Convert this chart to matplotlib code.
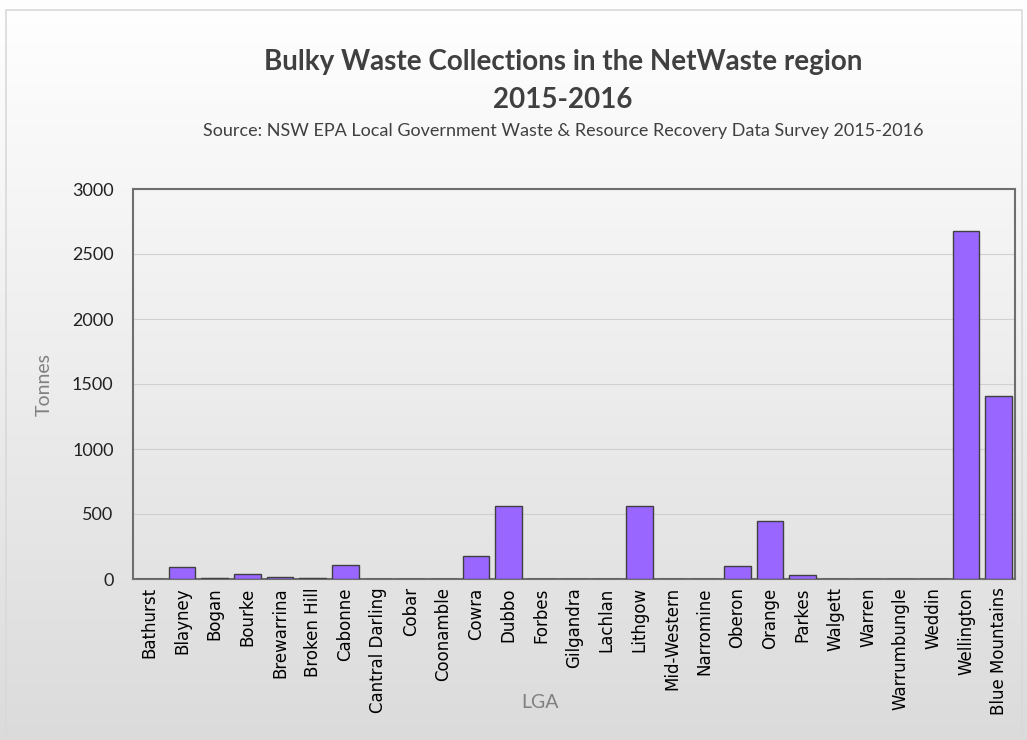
import numpy as np
import matplotlib.pyplot as plt
from matplotlib.patches import Rectangle

lgas = ['Bathurst', 'Blayney', 'Bogan', 'Bourke', 'Brewarrina', 'Broken Hill',
        'Cabonne', 'Cantral Darling', 'Cobar', 'Coonamble', 'Cowra', 'Dubbo',
        'Forbes', 'Gilgandra', 'Lachlan', 'Lithgow', 'Mid-Western', 'Narromine',
        'Oberon', 'Orange', 'Parkes', 'Walgett', 'Warren', 'Warrumbungle',
        'Weddin', 'Wellington', 'Blue Mountains']
tonnes = [0, 93, 4, 35, 12, 4,
          108, 0, 0, 0, 175, 565,
          0, 0, 0, 560, 0, 0,
          100, 450, 30, 0, 0, 0,
          3, 2678, 1408]
yticks = [0, 500, 1000, 1500, 2000, 2500, 3000]

W, H = 1027, 740
fig = plt.figure(figsize=(W / 100, H / 100), dpi=100)

# background gradient (white at top to light grey at bottom)
bg = fig.add_axes([0, 0, 1, 1], zorder=-10)
grad = np.linspace(1.0, 0.86, 256).reshape(-1, 1)
bg.imshow(np.dstack([grad, grad, grad]), aspect='auto', extent=[0, 1, 0, 1])
bg.set_xlim(0, 1)
bg.set_ylim(0, 1)
bg.axis('off')
bg.add_patch(Rectangle((6 / W, 1 - 736 / H), 1016 / W, 726 / H,
                       fill=False, edgecolor='#d9d9d9', lw=1.2))

left, right, top, bottom = 133, 1015, 189, 579
ax = fig.add_axes([left / W, 1 - bottom / H, (right - left) / W, (bottom - top) / H])
ax.patch.set_alpha(0)

x = np.arange(len(lgas))
ax.bar(x, tonnes, width=0.82, color='#9966FF', edgecolor='#404040', linewidth=1.0, zorder=3)

ax.set_xlim(-0.5, len(lgas) - 0.5)
ax.set_ylim(0, 3000)
ax.set_yticks(yticks)
ax.set_yticklabels([str(v) for v in yticks], fontfamily='Lato', fontsize=13, color='#222222')
ax.set_xticks(x)
ax.set_xticklabels(lgas, rotation=90, fontsize=12, color='#000000')
ax.tick_params(axis='both', length=0)
ax.tick_params(axis='y', pad=14)
ax.tick_params(axis='x', pad=6)
ax.grid(axis='y', color='#d0d0d0', lw=0.8, zorder=0)
for s in ax.spines.values():
    s.set_color('#6e6e6e')
    s.set_linewidth(1.5)

ax.set_ylabel('Tonnes', fontfamily='Lato', fontsize=14, color='#808080', labelpad=14)
fig.text(540 / W, 1 - 703 / H, 'LGA', fontfamily='Lato', fontsize=14, color='#808080',
         ha='center', va='center')

fig.text(563 / W, 1 - 62 / H, 'Bulky Waste Collections in the NetWaste region',
         fontfamily='Lato', fontweight='bold', fontsize=20, color='#404040',
         ha='center', va='center')
fig.text(563 / W, 1 - 100 / H, '2015-2016',
         fontfamily='Lato', fontweight='bold', fontsize=20, color='#404040',
         ha='center', va='center')
fig.text(563 / W, 1 - 131 / H,
         'Source: NSW EPA Local Government Waste & Resource Recovery Data Survey 2015-2016',
         fontfamily='Lato', fontsize=13, color='#404040', ha='center', va='center')

fig.savefig('out.png', dpi=100)
